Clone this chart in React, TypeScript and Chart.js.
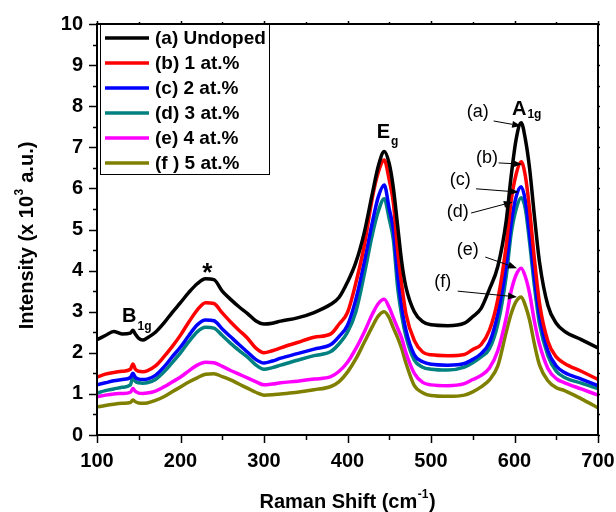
import React, { useEffect, useRef } from 'react';
import { Chart, registerables } from 'chart.js';

Chart.register(...registerables);

// ---------- data ----------
const ramanShift = [
  100, 110, 120, 130, 140, 143, 146, 150, 155, 160, 170, 180, 190, 200, 210, 220, 230, 240, 250, 260,
  270, 280, 290, 300, 310, 320, 340, 360, 380, 390, 400, 410, 420, 430, 437, 444, 450, 455, 460, 465,
  470, 480, 490, 500, 520, 540, 550, 560, 570, 580, 590, 596, 602, 608, 613, 618, 624, 630, 640, 650,
  660, 680, 700,
];

const undoped = [
  2.32, 2.42, 2.52, 2.46, 2.48, 2.55, 2.45, 2.35, 2.31, 2.36, 2.5, 2.72, 2.98, 3.22, 3.47, 3.68, 3.8, 3.78, 3.5, 3.3,
  3.12, 2.96, 2.78, 2.7, 2.72, 2.77, 2.85, 2.98, 3.18, 3.35, 3.72, 4.2, 4.92, 5.9, 6.55, 6.9, 6.6, 6.0, 5.1, 4.2,
  3.6, 3.0, 2.76, 2.68, 2.66, 2.72, 2.88, 3.08, 3.55, 4.1, 5.2, 6.3, 7.2, 7.6, 7.2, 6.5, 5.3, 4.2, 3.15, 2.72,
  2.52, 2.32, 2.12,
];
const doped1 = [
  1.41, 1.48, 1.52, 1.55, 1.6, 1.73, 1.6, 1.55, 1.54, 1.56, 1.68, 1.9, 2.15, 2.43, 2.75, 3.04, 3.22, 3.2, 2.97, 2.75,
  2.55, 2.36, 2.12, 2.0, 2.05, 2.12, 2.25, 2.38, 2.46, 2.7, 2.98, 3.7, 4.6, 5.8, 6.4, 6.69, 6.2, 5.64, 4.5, 3.65,
  2.95, 2.3, 2.02, 1.95, 1.93, 1.96, 2.08, 2.2, 2.55, 3.3, 4.6, 5.7, 6.35, 6.65, 6.3, 5.5, 4.25, 3.2, 2.28, 1.9,
  1.74, 1.55, 1.35,
];
const doped2 = [
  1.22, 1.27, 1.32, 1.35, 1.4, 1.5, 1.4, 1.36, 1.35, 1.36, 1.45, 1.65, 1.9, 2.14, 2.42, 2.68, 2.8, 2.78, 2.58, 2.39,
  2.2, 2.02, 1.84, 1.75, 1.8, 1.87, 1.98, 2.09, 2.2, 2.4, 2.67, 3.3, 4.2, 5.2, 5.8, 6.08, 5.5, 4.99, 3.9, 3.1,
  2.55, 1.95, 1.78, 1.72, 1.7, 1.74, 1.84, 1.98, 2.25, 2.95, 4.1, 5.15, 5.8, 6.04, 5.7, 4.9, 3.8, 2.9, 2.05, 1.68,
  1.52, 1.36, 1.2,
];
const doped3 = [
  1.02, 1.08, 1.12, 1.16, 1.22, 1.4, 1.3, 1.27, 1.26, 1.27, 1.35, 1.53, 1.76, 2.0, 2.27, 2.51, 2.62, 2.6, 2.42, 2.23,
  2.06, 1.9, 1.71, 1.6, 1.64, 1.7, 1.82, 1.93, 2.03, 2.22, 2.5, 3.0, 3.9, 4.9, 5.45, 5.75, 5.25, 4.74, 3.6, 2.9,
  2.4, 1.82, 1.65, 1.6, 1.58, 1.65, 1.76, 1.9, 2.1, 2.7, 3.85, 4.9, 5.5, 5.77, 5.5, 4.7, 3.6, 2.7, 1.93, 1.55,
  1.4, 1.26, 1.13,
];
const doped4 = [
  0.93, 0.97, 1.0, 1.01, 1.04, 1.13, 1.06, 1.02, 1.01, 1.02, 1.07, 1.17, 1.29, 1.41, 1.56, 1.7, 1.77, 1.76, 1.67, 1.57,
  1.48, 1.39, 1.3, 1.22, 1.24, 1.27, 1.31, 1.36, 1.42, 1.55, 1.77, 2.1, 2.5, 2.95, 3.2, 3.3, 3.1, 2.85, 2.6, 2.35,
  2.0, 1.5, 1.28, 1.22, 1.2, 1.25, 1.35, 1.45, 1.63, 2.05, 2.85, 3.5, 3.9, 4.06, 3.85, 3.45, 2.75, 2.2, 1.62, 1.37,
  1.27, 1.12, 0.97,
];
const doped5 = [
  0.68, 0.72, 0.75, 0.77, 0.79, 0.85, 0.81, 0.78, 0.77, 0.78, 0.84, 0.93, 1.05, 1.17, 1.29, 1.39, 1.48, 1.49, 1.42, 1.34,
  1.24, 1.14, 1.04, 0.97, 0.98, 1.0, 1.04, 1.1, 1.18, 1.3, 1.53, 1.85, 2.25, 2.65, 2.9, 3.0, 2.85, 2.6, 2.37, 2.1,
  1.75, 1.2, 1.03, 0.96, 0.94, 0.97, 1.05, 1.17, 1.34, 1.68, 2.5, 2.95, 3.25, 3.36, 3.15, 2.8, 2.2, 1.7, 1.32, 1.15,
  1.08, 0.88, 0.66,
];

const seriesValues = [undoped, doped1, doped2, doped3, doped4, doped5];
const seriesLabels = ['(a) Undoped', '(b) 1 at.%', '(c) 2 at.%', '(d) 3 at.%', '(e) 4 at.%', '(f ) 5 at.%'];
const seriesColors = ['#000000', '#ff0000', '#0000ff', '#008080', '#ff00ff', '#808000'];

const xMin = 100;
const xMax = 700;
const xStep = 100;
const yMin = 0;
const yMax = 10;
const yStep = 1;

const xTitle = 'Raman Shift (cm';
const xTitleSup = '-1';
const xTitleEnd = ')';
const yTitle = 'Intensity (x 10';
const yTitleSup = '3';
const yTitleEnd = ' a.u.)';

// arrow annotations: label, label position, arrow start, arrow tip (data units)
const arrowLabels = ['(a)', '(b)', '(c)', '(d)', '(e)', '(f)'];
const arrowLabelAt = [[556, 7.86], [567, 6.74], [535, 6.2], [532, 5.43], [544, 4.5], [514, 3.72]];
const arrowFrom = [[575, 7.64], [581, 6.62], [554, 5.99], [548, 5.4], [565, 4.33], [532, 3.5]];
const arrowTo = [[608, 7.52], [609, 6.59], [605, 5.91], [598, 5.67], [603, 4.06], [603, 3.36]];

// band labels: main text, subscript, left x, baseline y (data units)
const bandMain = ['A', 'E', 'B'];
const bandSub = ['1g', 'g', '1g'];
const bandAt = [[597, 7.79], [435, 7.23], [130, 2.75]];
const bandSubDrop = [3, 7, 8];
const starAt = [232, 4.06];

const FONT = "'Liberation Sans', Arial, sans-serif";

const decorPlugin = {
  id: 'decor',
  afterDatasetsDraw(chart: any) {
    const ctx: CanvasRenderingContext2D = chart.ctx;
    const { left, right, top, bottom } = chart.chartArea;
    const xs = chart.scales.x;
    const ys = chart.scales.y;
    ctx.save();
    ctx.fillStyle = '#000';
    ctx.strokeStyle = '#000';

    // frame
    ctx.lineWidth = 2;
    ctx.strokeRect(left, top, right - left, bottom - top);

    // ticks
    ctx.lineWidth = 1.5;
    ctx.beginPath();
    for (let v = xMin; v <= xMax + 1e-9; v += xStep / 2) {
      const px = Math.round(xs.getPixelForValue(v)) + 0.5;
      const major = Math.abs(((v - xMin) / xStep) - Math.round((v - xMin) / xStep)) < 1e-6;
      const len = major ? 8 : 5;
      ctx.moveTo(px, bottom);
      ctx.lineTo(px, bottom + len);
      ctx.moveTo(px, top);
      ctx.lineTo(px, top - (major ? 3 : 2));
    }
    for (let v = yMin; v <= yMax + 1e-9; v += yStep / 2) {
      const py = Math.round(ys.getPixelForValue(v)) + 0.5;
      const major = Math.abs(v - Math.round(v)) < 1e-6;
      const len = major ? 8 : 4;
      ctx.moveTo(left, py);
      ctx.lineTo(left - len, py);
      ctx.moveTo(right, py);
      ctx.lineTo(right + 2, py);
    }
    ctx.stroke();

    // legend
    const lx0 = left + 3;
    const ly0 = top;
    const lw = 169;
    const lh = 150;
    ctx.lineWidth = 1;
    ctx.strokeRect(lx0 + 0.5, ly0 + 0.5, lw, lh);
    ctx.font = `bold 19px ${FONT}`;
    ctx.textBaseline = 'middle';
    ctx.textAlign = 'left';
    chart.data.datasets.forEach((ds: any, i: number) => {
      const yy = ly0 + 14 + i * 25;
      ctx.strokeStyle = ds.borderColor;
      ctx.lineWidth = 3.5;
      ctx.beginPath();
      ctx.moveTo(lx0 + 5, yy);
      ctx.lineTo(lx0 + 49, yy);
      ctx.stroke();
      ctx.fillStyle = '#000';
      ctx.fillText(ds.label, lx0 + 55, yy + 1);
    });

    // arrow annotations
    ctx.strokeStyle = '#000';
    ctx.fillStyle = '#000';
    ctx.font = `18px ${FONT}`;
    ctx.textAlign = 'center';
    ctx.textBaseline = 'middle';
    arrowLabels.forEach((lab, i) => {
      const tx = xs.getPixelForValue(arrowLabelAt[i][0]);
      const ty = ys.getPixelForValue(arrowLabelAt[i][1]);
      ctx.fillText(lab, tx, ty);
      const x1 = xs.getPixelForValue(arrowFrom[i][0]);
      const y1 = ys.getPixelForValue(arrowFrom[i][1]);
      const x2 = xs.getPixelForValue(arrowTo[i][0]);
      const y2 = ys.getPixelForValue(arrowTo[i][1]);
      const ang = Math.atan2(y2 - y1, x2 - x1);
      const hl = 9;
      const hw = 3.5;
      ctx.lineWidth = 1;
      ctx.beginPath();
      ctx.moveTo(x1, y1);
      ctx.lineTo(x2 - hl * Math.cos(ang), y2 - hl * Math.sin(ang));
      ctx.stroke();
      ctx.beginPath();
      ctx.moveTo(x2, y2);
      ctx.lineTo(x2 - hl * Math.cos(ang) + hw * Math.sin(ang), y2 - hl * Math.sin(ang) - hw * Math.cos(ang));
      ctx.lineTo(x2 - hl * Math.cos(ang) - hw * Math.sin(ang), y2 - hl * Math.sin(ang) + hw * Math.cos(ang));
      ctx.closePath();
      ctx.fill();
    });

    // band labels with subscripts
    ctx.textAlign = 'left';
    ctx.textBaseline = 'alphabetic';
    bandMain.forEach((m, i) => {
      const bx = xs.getPixelForValue(bandAt[i][0]);
      const by = ys.getPixelForValue(bandAt[i][1]);
      ctx.font = `bold 20px ${FONT}`;
      ctx.fillText(m, bx, by);
      const w = ctx.measureText(m).width;
      ctx.font = `bold 12px ${FONT}`;
      ctx.fillText(bandSub[i], bx + w + 1, by + bandSubDrop[i]);
    });

    // star
    ctx.font = `bold 26px ${FONT}`;
    ctx.textAlign = 'center';
    const sm = ctx.measureText('*');
    const sx = xs.getPixelForValue(starAt[0]);
    const sy = ys.getPixelForValue(starAt[1]);
    const base = sy + (sm.actualBoundingBoxAscent - sm.actualBoundingBoxDescent) / 2;
    ctx.fillText('*', sx, base);

    // axis titles
    const drawSupTitle = (a: string, sup: string, b: string) => {
      ctx.font = `bold 20px ${FONT}`;
      const wa = ctx.measureText(a).width;
      const wb = ctx.measureText(b).width;
      ctx.font = `bold 12px ${FONT}`;
      const ws = ctx.measureText(sup).width;
      const total = wa + ws + 1 + wb;
      let cx = -total / 2;
      ctx.textAlign = 'left';
      ctx.textBaseline = 'alphabetic';
      ctx.font = `bold 20px ${FONT}`;
      ctx.fillText(a, cx, 0);
      cx += wa;
      ctx.font = `bold 12px ${FONT}`;
      ctx.fillText(sup, cx + 0.5, -10);
      cx += ws + 1;
      ctx.font = `bold 20px ${FONT}`;
      ctx.fillText(b, cx, 0);
    };

    ctx.save();
    ctx.translate((left + right) / 2, 508);
    drawSupTitle(xTitle, xTitleSup, xTitleEnd);
    ctx.restore();

    ctx.save();
    ctx.translate(33, (top + bottom) / 2 + 6);
    ctx.rotate(-Math.PI / 2);
    drawSupTitle(yTitle, yTitleSup, yTitleEnd);
    ctx.restore();

    ctx.restore();
  },
};

export default function App() {
  const canvasRef = useRef<HTMLCanvasElement | null>(null);

  useEffect(() => {
    if (!canvasRef.current) return;
    const datasets = seriesValues.map((vals, i) => ({
      label: seriesLabels[i],
      data: ramanShift.map((x, j) => ({ x, y: vals[j] })),
      borderColor: seriesColors[i],
      backgroundColor: seriesColors[i],
      borderWidth: 3.5,
      pointRadius: 0,
      cubicInterpolationMode: 'monotone' as const,
      fill: false,
    }));

    const chart = new Chart(canvasRef.current, {
      type: 'line',
      data: { datasets },
      options: {
        animation: false,
        responsive: false,
        maintainAspectRatio: false,
        events: [],
        layout: { padding: { left: 0, top: 24, right: 18, bottom: 0 } },
        plugins: { legend: { display: false }, tooltip: { enabled: false }, title: { display: false } },
        scales: {
          x: {
            type: 'linear',
            min: xMin,
            max: xMax,
            grid: { display: false, drawTicks: false },
            border: { display: false },
            ticks: {
              stepSize: xStep,
              padding: 14,
              color: '#000',
              maxRotation: 0,
              autoSkip: false,
              font: { family: FONT, size: 20, weight: 'bold' },
            },
            afterFit: (s: any) => {
              s.height = 77;
              s.paddingLeft = 0;
              s.paddingRight = 0;
            },
          },
          y: {
            type: 'linear',
            min: yMin,
            max: yMax,
            grid: { display: false, drawTicks: false },
            border: { display: false },
            ticks: {
              stepSize: yStep,
              padding: 14,
              color: '#000',
              autoSkip: false,
              font: { family: FONT, size: 20, weight: 'bold' },
            },
            afterFit: (s: any) => {
              s.width = 97;
              s.paddingTop = 0;
              s.paddingBottom = 0;
            },
          },
        },
      },
      plugins: [decorPlugin],
    } as any);

    return () => chart.destroy();
  }, []);

  return (
    <div style={{ position: 'absolute', left: 0, top: 0, width: 616, height: 512, background: '#fff' }}>
      <canvas ref={canvasRef} width={616} height={512} style={{ display: 'block' }} />
    </div>
  );
}
